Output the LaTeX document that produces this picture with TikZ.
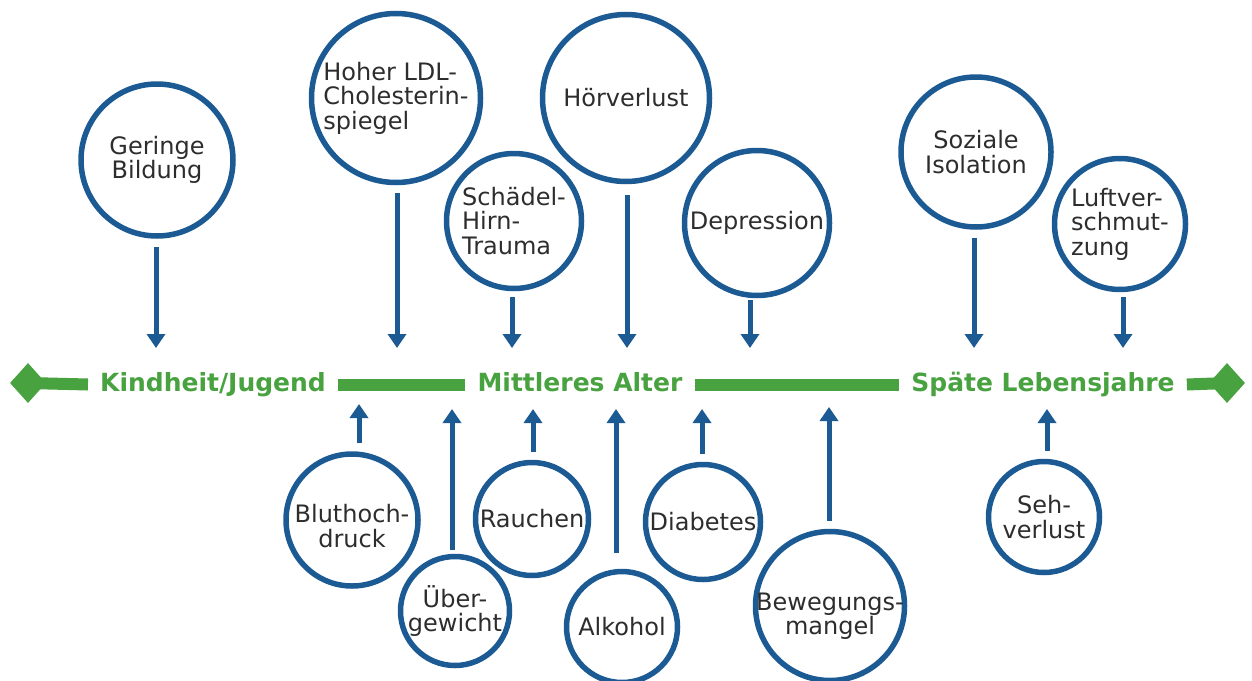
\documentclass[tikz,border=0pt]{standalone}
\usepackage{fontspec}
\setmainfont{DejaVu Sans}
\usepackage{tikz}
\usetikzlibrary{arrows.meta}
\usetikzlibrary{shapes.geometric}

\definecolor{riskblue}{RGB}{28,90,148}
\definecolor{eragreen}{RGB}{72,162,64}
\definecolor{textgrey}{RGB}{45,45,45}

\begin{document}
\begin{tikzpicture}[x=1pt,y=-1pt]
    \tikzstyle{risk}=[
      circle,
      draw=riskblue,
      line width=5.5pt,
      inner sep=0pt,
      fill=white,
    ]
    \tikzstyle{rtext}=[
      text=textgrey,
      align=center,
      inner sep=0pt,
      font=\fontsize{24}{24.5}\selectfont,
    ]
    \tikzstyle{rtextl}=[rtext, align=left]
    \tikzstyle{era}=[
      text=eragreen,
      font=\fontsize{25}{25}\selectfont\bfseries,
      text height=18pt,
      text depth=5pt,
      inner xsep=12pt,
      inner ysep=0pt,
      anchor=base,
    ]
    \tikzstyle{endmark}=[diamond, fill=eragreen, inner sep=0pt, minimum width=36pt, minimum height=40pt]
    \tikzstyle{timebar}=[line width=12pt, draw=eragreen]
    \tikzstyle{toline}=[line width=5pt, draw=riskblue, -{Triangle[width=18pt,length=14pt]}, shorten <=8pt]

    \useasboundingbox (0,0) rectangle (1252,680);

    % timeline
    {
      \node[endmark] (ldia) at (28,383) {};
      \node[era] (kindheit) at (213,391) {Kindheit/Jugend};
      \node[era] (mittel) at (580,391) {Mittleres Alter};
      \node[era] (spaet) at (1043,391) {Späte Lebensjahre};
      \node[endmark] (rdia) at (1227,383) {};
    }

    % risk factors above
    {
      \node[risk, minimum size=152pt, label={[rtext]center:{Geringe\\Bildung}}] (bildung) at (157,160) {};
      \node[risk, minimum size=169pt, label={[rtextl]center:{Hoher LDL-\\Cholesterin-\\spiegel}}] (ldl) at (396,98) {};
      \node[risk, minimum size=135pt, label={[rtextl]center:{Schädel-\\Hirn-\\Trauma}}] (trauma) at (514,221) {};
      \node[risk, minimum size=167pt, label={[rtext]center:{Hörverlust}}] (hoer) at (626,98) {};
      \node[risk, minimum size=145pt, label={[rtext]center:{Depression}}] (depression) at (757,223) {};
      \node[risk, minimum size=150pt, label={[rtext]center:{Soziale\\Isolation}}] (isolation) at (976,152) {};
      \node[risk, minimum size=131pt, label={[rtextl]center:{Luftver-\\schmut-\\zung}}] (luft) at (1120,224) {};
    }

    % risk factors below
    {
      \node[risk, minimum size=132pt, label={[rtext,yshift=-6pt]center:{Bluthoch-\\druck}}] (bluthoch) at (352,520) {};
      \node[risk, minimum size=109pt, label={[rtext]center:{Über-\\gewicht}}] (ueber) at (455,611) {};
      \node[risk, minimum size=113pt, label={[rtext]center:{Rauchen}}] (rauchen) at (532,519) {};
      \node[risk, minimum size=111pt, label={[rtext]center:{Alkohol}}] (alkohol) at (622,627) {};
      \node[risk, minimum size=115pt, label={[rtext]center:{Diabetes}}] (diabetes) at (703,522) {};
      \node[risk, minimum size=149pt, label={[rtext,yshift=-10pt]center:{Bewegungs-\\mangel}}] (bewegung) at (830,606) {};
      \node[risk, minimum size=111pt, label={[rtext]center:{Seh-\\verlust}}] (seh) at (1044,517) {};
    }

    % arrow tips on the timeline
    {
      \coordinate (tbildung) at (156,348);
      \coordinate (tldl) at (397,348);
      \coordinate (ttrauma) at (512,348);
      \coordinate (thoer) at (627,348);
      \coordinate (tdepression) at (750,348);
      \coordinate (tisolation) at (974,348);
      \coordinate (tluft) at (1123,348);

      \coordinate (tbluthoch) at (359,404);
      \coordinate (tueber) at (452,409);
      \coordinate (trauchen) at (533,409);
      \coordinate (talkohol) at (616,409);
      \coordinate (tdiabetes) at (702,409);
      \coordinate (tbewegung) at (829,407);
      \coordinate (tseh) at (1047,409);
    }

    {
      \draw[timebar] (ldia.center)--(kindheit.west);
      \draw[timebar] (kindheit.east)--(mittel.west);
      \draw[timebar] (mittel.east)--(spaet.west);
      \draw[timebar] (spaet.east)--(rdia.center);
    }

    {
      \draw[toline] (bildung.south -| tbildung)--(tbildung);
      \draw[toline] (ldl.south -| tldl)--(tldl);
      \draw[toline, shorten <=6pt] (trauma.south -| ttrauma)--(ttrauma);
      \draw[toline, shorten <=11pt] (hoer.south -| thoer)--(thoer);
      \draw[toline, shorten <=2pt] (depression.south -| tdepression)--(tdepression);
      \draw[toline] (isolation.south -| tisolation)--(tisolation);
      \draw[toline, shorten <=5pt] (luft.south -| tluft)--(tluft);

      \draw[toline] (bluthoch.north -| tbluthoch)--(tbluthoch);
      \draw[toline, shorten <=4pt] (ueber.north -| tueber)--(tueber);
      \draw[toline] (rauchen.north -| trauchen)--(trauchen);
      \draw[toline, shorten <=16pt] (alkohol.north -| talkohol)--(talkohol);
      \draw[toline] (diabetes.north -| tdiabetes)--(tdiabetes);
      \draw[toline] (bewegung.north -| tbewegung)--(tbewegung);
      \draw[toline] (seh.north -| tseh)--(tseh);
    }
\end{tikzpicture}
\end{document}
